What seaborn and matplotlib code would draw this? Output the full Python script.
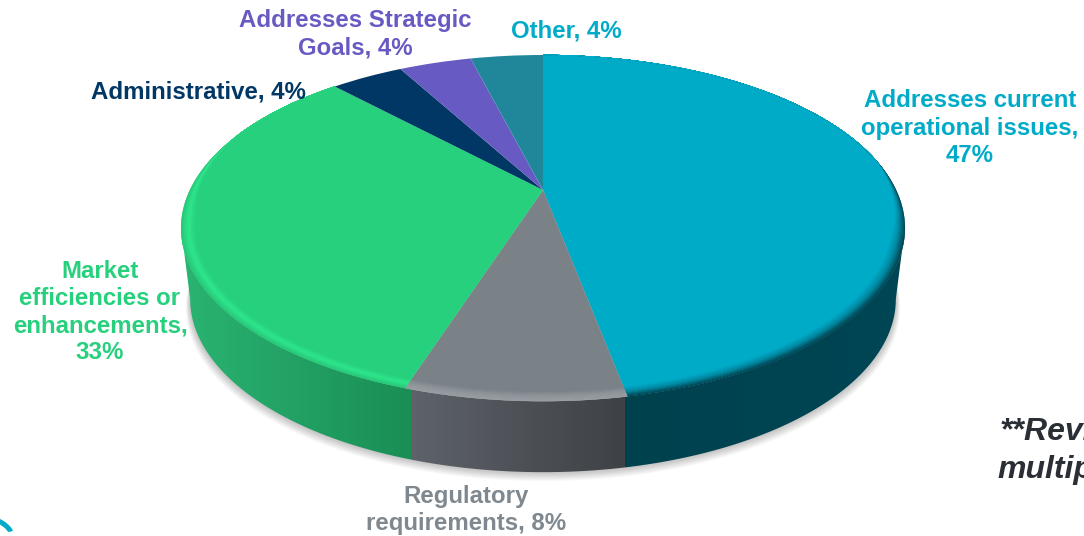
import numpy as np
import seaborn as sns
import matplotlib
matplotlib.use("Agg")
import matplotlib.pyplot as plt
import matplotlib.transforms as mtransforms
from matplotlib.patches import Polygon

# chart values
categories = ["Addresses current operational issues", "Regulatory requirements",
              "Market efficiencies or enhancements", "Administrative",
              "Addresses Strategic Goals", "Other"]
shares = [47, 8, 33, 4, 4, 4]
face_colors = ["#00ABC8", "#7A8288", "#27D07D", "#003764", "#675BC3", "#20879B"]
label_colors = ["#00ABC8", "#7F888E", "#27D07D", "#003764", "#675BC3", "#00ABC8"]
label_texts = ["Addresses current\noperational issues,\n47%", "Regulatory\nrequirements, 8%",
               "Market\nefficiencies or\nenhancements,\n33%", "Administrative, 4%",
               "Addresses Strategic\nGoals, 4%", "Other, 4%"]
label_x = [970, 466, 100, 198, 355, 566]
label_y = [128, 510, 312, 92, 34, 31]
note_lines = ["**Revi", "multip"]

# side wall colours (left, right) and rim colours (outer, peak) per slice
wall_colors = [("#00414E", "#004655"), ("#5E626A", "#3E4145"), ("#2AB472", "#1A8E55"),
               None, None, None]
rim_colors = [("#00424F", "#0088A0"), ("#9AA0A4", "#90979C"), ("#28C87A", "#2FE88C"),
              None, None, None]

# camera: the flat pie is seen in perspective
APEX_X, APEX_Y = 543, 190
A, B, K = 353, 164.7, 0.22
WALL = 71
BOTTOM_SCALE = 0.975


def project(xy, sx=1.0, dy=0.0):
    x, y = xy[:, 0], xy[:, 1]
    w = 1 + K * y
    return np.column_stack([APEX_X + sx * A * x / w, APEX_Y + dy - B * y / w])


class Perspective(mtransforms.Transform):
    input_dims = 2
    output_dims = 2
    is_separable = False

    def transform_non_affine(self, values):
        return project(np.asarray(values))


def ring(theta_deg, r=1.0):
    t = np.radians(theta_deg)
    return np.column_stack([r * np.sin(t), r * np.cos(t)])


sns.set_theme(style="white")
plt.rcParams["font.family"] = ["Liberation Sans", "DejaVu Sans"]

fig = plt.figure(figsize=(10.84, 5.36), dpi=100)
ax = fig.add_axes([0, 0, 1, 1])

wedges, _ = ax.pie(shares, colors=face_colors, startangle=90, counterclock=False,
                   wedgeprops={"linewidth": 0, "zorder": 5})
persp = Perspective()
for w in wedges:
    w.set_transform(persp + ax.transData)

edges = np.cumsum([0] + shares) * 3.6
side = np.degrees(np.arccos(-K))
front = np.linspace(side, 360 - side, 200)

# soft shadow under the wall
for d in range(1, 11):
    pts = project(ring(np.linspace(60, 300, 200)), BOTTOM_SCALE + d * 0.0012, WALL + d * 0.9)
    ax.add_patch(Polygon(pts, closed=True, fc="#000000", ec="none", alpha=0.022, zorder=1))

# side wall, shaded by column
xs = np.arange(int(APEX_X - A * 1.03), int(APEX_X + A * 1.03))
wall_img = np.ones((1, len(xs), 3))
for i, pair in enumerate(wall_colors):
    if pair is None:
        continue
    t0, t1 = max(edges[i], side), min(edges[i + 1], 360 - side)
    seam = project(ring(np.array([t0, t1]), 0.97))[:, 0]
    left, right = seam.min(), seam.max()
    if t0 == side:
        right = xs[-1] + 1
    if t1 == 360 - side:
        left = xs[0]
    mask = (xs >= left) & (xs < right)
    wall_img[0, mask] = sns.blend_palette(pair, mask.sum())
outline = np.vstack([project(ring(front)), project(ring(front[::-1]), BOTTOM_SCALE, WALL)])
im = ax.imshow(wall_img, extent=(xs[0], xs[-1] + 1, 480, 200), aspect="auto",
               interpolation="nearest", zorder=2)
clip = Polygon(outline, closed=True, transform=ax.transData, fc="none", ec="none")
ax.add_patch(clip)
im.set_clip_path(clip)

# rim bevel on the front of the top face
n_bands = 12
rim_width = 0.04
for i, pair in enumerate(rim_colors):
    if pair is None:
        continue
    thetas = np.linspace(edges[i], edges[i + 1], 160)
    taper = np.clip((thetas - 78) / 30, 0, 1) * np.clip((292 - thetas) / 30, 0, 1)
    cols = sns.blend_palette([pair[0], pair[1], face_colors[i]], n_bands)
    for j in range(n_bands):
        r_out = 1 - rim_width * taper * j / n_bands
        r_in = 1 - rim_width * taper * (j + 1) / n_bands
        t = np.radians(thetas)
        outer = project(np.column_stack([r_out * np.sin(t), r_out * np.cos(t)]))
        inner = project(np.column_stack([r_in * np.sin(t), r_in * np.cos(t)]))
        ax.add_patch(Polygon(np.vstack([outer, inner[::-1]]), closed=True, fc=cols[j],
                             ec=cols[j], lw=0.3, zorder=6))

# labels
for txt, lx, ly, col in zip(label_texts, label_x, label_y, label_colors):
    ax.text(lx, ly, txt, color=col, fontsize=17.3, fontweight="bold", ha="center",
            va="center", linespacing=1.24, zorder=8)

# note running off the right edge
ax.text(1000, 432, note_lines[0], color="#2A2F36", fontsize=23, fontweight="bold",
        fontstyle="italic", ha="left", va="center", zorder=8)
ax.text(997, 470, note_lines[1], color="#2A2F36", fontsize=23, fontweight="bold",
        fontstyle="italic", ha="left", va="center", zorder=8)

# logo fragment in the corner
arc = np.radians(np.linspace(-100, -32, 40))
ax.plot(-12 + 27 * np.cos(arc), 546 + 27 * np.sin(arc), color="#00ABC8", lw=3.6,
        solid_capstyle="butt", zorder=8)
ax.fill_between([0, 60], 532, 536, color="white", zorder=9)

ax.set_xlim(0, 1084)
ax.set_ylim(536, 0)
ax.set_aspect("auto")
ax.axis("off")

fig.savefig("out.png", dpi=100)
